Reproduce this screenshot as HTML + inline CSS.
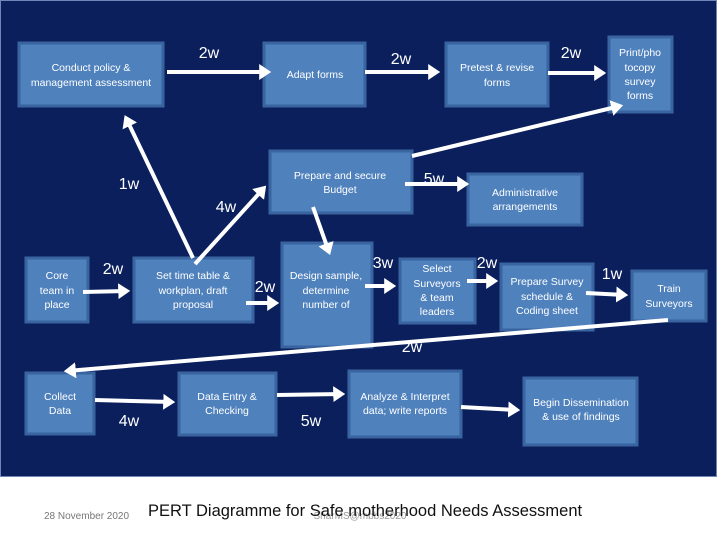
<!DOCTYPE html>
<html><head><meta charset="utf-8"><style>
body{margin:0;background:#fff;width:720px;height:540px;overflow:hidden}
svg text{font-family:"Liberation Sans",sans-serif}
</style></head><body>
<svg width="720" height="540" viewBox="0 0 720 540" xmlns="http://www.w3.org/2000/svg">
<defs><marker id="a" markerWidth="4" markerHeight="4" refX="2.2" refY="2" orient="auto" markerUnits="strokeWidth"><path d="M0,0 L3,2 L0,4 Z" fill="#fff"/></marker></defs>
<rect x="0" y="0" width="717" height="477" fill="#0a1f5c"/>
<rect x="0.5" y="0.5" width="716" height="476" fill="none" stroke="#6f86b8" stroke-width="1"/>
<g fill="#4f81bd" stroke="#3a64a0" stroke-width="3">
<rect x="19" y="43" width="144" height="63"/>
<rect x="264" y="43" width="101" height="63"/>
<rect x="446" y="43" width="102" height="63"/>
<rect x="609" y="37" width="63" height="75"/>
<rect x="270" y="151" width="142" height="62"/>
<rect x="468" y="174" width="114" height="51"/>
<rect x="26" y="258" width="62" height="64"/>
<rect x="134" y="258" width="119" height="64"/>
<rect x="282" y="243" width="90" height="104"/>
<rect x="400" y="259" width="75" height="64"/>
<rect x="501" y="264" width="92" height="66"/>
<rect x="632" y="271" width="74" height="50"/>
<rect x="26" y="373" width="68" height="61"/>
<rect x="179" y="373" width="97" height="62"/>
<rect x="349" y="371" width="112" height="66"/>
<rect x="524" y="378" width="113" height="67"/>
</g>
<g fill="#fff" font-size="10.5" text-anchor="middle">
<text x="91" y="71">Conduct  policy &amp;</text><text x="91" y="86">management assessment</text>
<text x="315" y="78">Adapt forms</text>
<text x="497" y="71">Pretest &amp; revise</text><text x="497" y="86">forms</text>
<text x="640" y="56">Print/pho</text><text x="640" y="71">tocopy</text><text x="640" y="85">survey</text><text x="640" y="99">forms</text>
<text x="340" y="179">Prepare and secure</text><text x="340" y="193">Budget</text>
<text x="525" y="196">Administrative</text><text x="525" y="210">arrangements</text>
<text x="57" y="279">Core</text><text x="57" y="294">team in</text><text x="57" y="308">place</text>
<text x="193" y="279">Set time table &amp;</text><text x="193" y="294">workplan, draft</text><text x="193" y="308">proposal</text>
<text x="326" y="279">Design sample,</text><text x="326" y="294">determine</text><text x="326" y="308">number of</text>
<text x="437" y="272">Select</text><text x="437" y="287">Surveyors</text><text x="437" y="301">&amp; team</text><text x="437" y="315">leaders</text>
<text x="547" y="285">Prepare Survey</text><text x="547" y="300">schedule &amp;</text><text x="547" y="314">Coding sheet</text>
<text x="669" y="292">Train</text><text x="669" y="307">Surveyors</text>
<text x="60" y="400">Collect</text><text x="60" y="414">Data</text>
<text x="227" y="400">Data Entry &amp;</text><text x="227" y="414">Checking</text>
<text x="405" y="400">Analyze &amp; Interpret</text><text x="405" y="414">data; write reports</text>
<text x="581" y="406">Begin Dissemination</text><text x="581" y="420">&amp; use of findings</text>
</g>
<g stroke="#fff" stroke-width="4" fill="none" marker-end="url(#a)">
<line x1="167" y1="72" x2="268" y2="72"/>
<line x1="365" y1="72" x2="437" y2="72"/>
<line x1="548" y1="73" x2="603" y2="73"/>
<line x1="412" y1="156" x2="620" y2="106"/>
<line x1="405" y1="184" x2="466" y2="184"/>
<line x1="83" y1="292" x2="127" y2="291"/>
<line x1="193" y1="258" x2="126" y2="118"/>
<line x1="195" y1="264" x2="264" y2="188"/>
<line x1="313" y1="207" x2="329" y2="252"/>
<line x1="246" y1="303" x2="276" y2="303"/>
<line x1="365" y1="286" x2="393" y2="286"/>
<line x1="467" y1="281" x2="495" y2="281"/>
<line x1="586" y1="293" x2="625" y2="295"/>
<line x1="668" y1="320" x2="67" y2="371"/>
<line x1="95" y1="400" x2="172" y2="402"/>
<line x1="277" y1="395" x2="342" y2="394"/>
<line x1="461" y1="407" x2="517" y2="410"/>
</g>
<g fill="#fff" font-size="16" text-anchor="middle">
<text x="209" y="58">2w</text><text x="401" y="64">2w</text><text x="571" y="58">2w</text>
<text x="434" y="184">5w</text><text x="129" y="189">1w</text><text x="226" y="212">4w</text>
<text x="113" y="274">2w</text><text x="265" y="292">2w</text><text x="383" y="268">3w</text>
<text x="487" y="268">2w</text><text x="612" y="279">1w</text><text x="412" y="352">2w</text>
<text x="129" y="426">4w</text><text x="311" y="426">5w</text>
</g>
<text x="44" y="519" font-size="10" fill="#777">28 November 2020</text>
<text x="360" y="519" font-size="10" fill="#999" text-anchor="middle">SharMS@mbbs2020</text>
<text x="148" y="516" font-size="16.5" fill="#111">PERT Diagramme for Safe motherhood Needs Assessment</text>
</svg>
</body></html>
